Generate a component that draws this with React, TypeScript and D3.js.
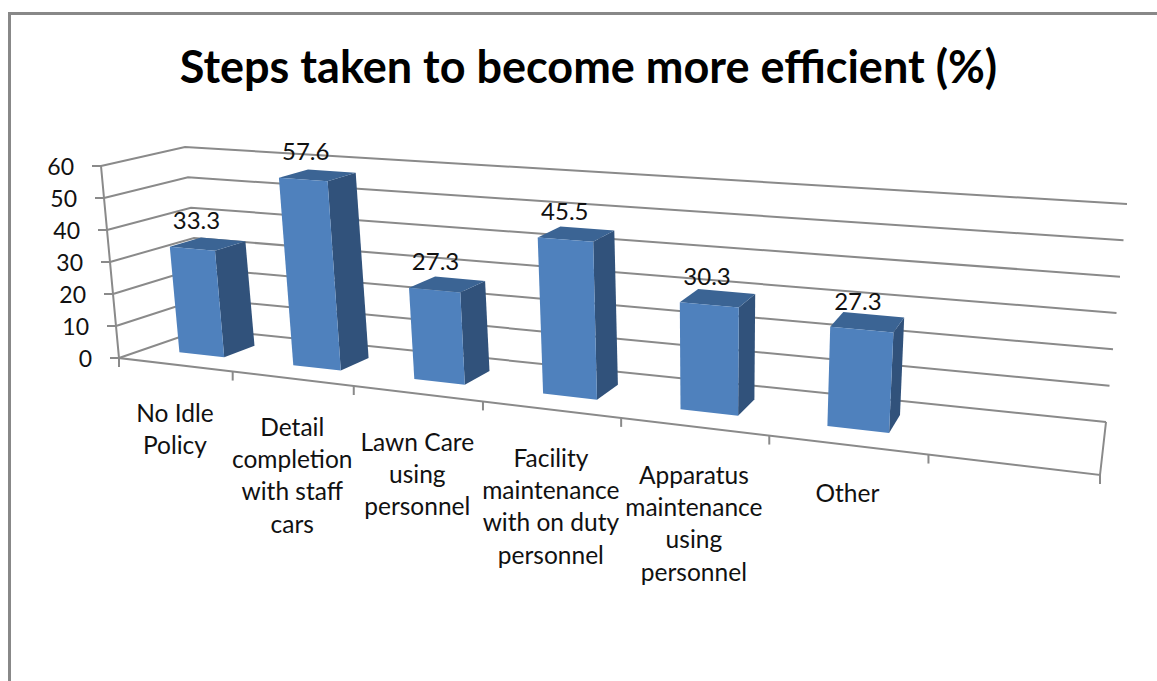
import React from "react";
import * as d3 from "d3";

const categories = ["No Idle Policy", "Detail completion with staff cars", "Lawn Care using personnel", "Facility maintenance with on duty personnel", "Apparatus maintenance using personnel", "Other"];
const slots = [...categories, "blank"];
const values = [33.3, 57.6, 27.3, 45.5, 30.3, 27.3];
const labelLines = [
  ["No Idle", "Policy"],
  ["Detail", "completion", "with staff", "cars"],
  ["Lawn Care", "using", "personnel"],
  ["Facility", "maintenance", "with on duty", "personnel"],
  ["Apparatus", "maintenance", "using", "personnel"],
  ["Other"],
];
const valueTicks = [0, 10, 20, 30, 40, 50, 60];
const title = "Steps taken to become more efficient (%)";

type P = [number, number];

// Maps the unit square onto a quad (p00, p10, p11, p01) with a projective transform.
function squareToQuad(q: [P, P, P, P]) {
  const [[x0, y0], [x1, y1], [x2, y2], [x3, y3]] = q;
  const dx1 = x1 - x2, dx2 = x3 - x2, dx3 = x0 - x1 + x2 - x3;
  const dy1 = y1 - y2, dy2 = y3 - y2, dy3 = y0 - y1 + y2 - y3;
  const den = dx1 * dy2 - dx2 * dy1;
  const g = (dx3 * dy2 - dx2 * dy3) / den;
  const h = (dx1 * dy3 - dx3 * dy1) / den;
  const a = x1 - x0 + g * x1, b = x3 - x0 + h * x3;
  const d = y1 - y0 + g * y1, e = y3 - y0 + h * y3;
  return (u: number, v: number): P => {
    const w = g * u + h * v + 1;
    return [(a * u + b * v + x0) / w, (d * u + e * v + y0) / w];
  };
}

// Floor and ceiling of the 3D plot box: front-left, front-right, back-right, back-left.
const floor = squareToQuad([[119, 358], [1100, 475], [1106, 422], [203, 329]]);
const ceiling = squareToQuad([[101, 166], [1124, 240], [1127, 204], [185, 147]]);

// Foreshortening along the category direction, at floor and ceiling level.
const warpBy = (k: number) => (u: number) => (u * k) / (1 + u * (k - 1));
const warpFloor = warpBy(1.12);
const warpCeiling = warpBy(1.15);

const h = d3.scaleLinear().domain([0, 60]).range([0, 1]);
const band = d3.scaleBand<string>().domain(slots).range([0, 1]).paddingInner(0.6).paddingOuter(0.3);
const slot = d3.scaleBand<string>().domain(slots).range([0, 1]);
const depthFront = 0.31;
const depthBack = 0.69;

function project(u: number, v: number, value: number): P {
  const a = floor(warpFloor(u), v), b = ceiling(warpCeiling(u), v), t = h(value);
  return [a[0] + (b[0] - a[0]) * t, a[1] + (b[1] - a[1]) * t];
}

const poly = (pts: P[]) => pts.map((p) => p.map((n) => n.toFixed(1)).join(",")).join(" ");
const GRID = "#8a8a8a";
const FONT = "Lato, 'Open Sans', sans-serif";

export default function App() {
  return (
    <svg width={1157} height={681} style={{ position: "absolute", left: 0, top: 0, background: "#fff" }} fontFamily={FONT}>
      <path d="M1157,13.5H9.5V681" fill="none" stroke="#888" strokeWidth={3} />
      <text x={588.5} y={82.5} textAnchor="middle" fontSize={45} fontWeight={700} fill="#000">{title}</text>

      {/* Wall gridlines: left wall then back wall */}
      {valueTicks.map((t) => {
        const a = project(0, 0, t), b = project(0, 1, t), c = project(1, 1, t);
        return (
          <polyline key={t} points={poly([a, b, c])} fill="none" stroke={GRID} strokeWidth={2} />
        );
      })}
      {/* Value axis, floor edges and tick marks */}
      <polyline points={poly([project(0, 0, 60), project(0, 0, 0), project(1, 0, 0), project(1, 1, 0)])} fill="none" stroke={GRID} strokeWidth={2} />
      {valueTicks.map((t) => {
        const p = project(0, 0, t);
        return (
          <g key={t}>
            <line x1={p[0] - 9} x2={p[0]} y1={p[1]} y2={p[1]} stroke={GRID} strokeWidth={2} />
            <text x={p[0] - 27} y={p[1] + 9} textAnchor="end" fontSize={23} fill="#111">{t}</text>
          </g>
        );
      })}
      {d3.range(slots.length + 1).map((i) => {
        const p = project(i / slots.length, 0, 0);
        return <line key={i} x1={p[0]} x2={p[0]} y1={p[1]} y2={p[1] + 9} stroke={GRID} strokeWidth={2} />;
      })}

      {/* Bars: side face, top face, front face */}
      {categories.map((c, i) => {
        const u0 = band(c)!, u1 = u0 + band.bandwidth(), val = values[i];
        const uMid = (u0 + u1) / 2;
        const fbl = project(u0, depthFront, 0), fbr = project(u1, depthFront, 0);
        const ftl = project(u0, depthFront, val), ftr = project(u1, depthFront, val);
        const bbr = project(u1, depthBack, 0), btr = project(u1, depthBack, val), btl = project(u0, depthBack, val);
        const top = project(uMid, depthFront, val);
        return (
          <g key={c}>
            <polygon points={poly([fbr, ftr, btr, bbr])} fill="#31527b" />
            <polygon points={poly([ftl, btl, btr, ftr])} fill="#3b6494" />
            <polygon points={poly([fbl, ftl, ftr, fbr])} fill="#4f81bd" />
            <text x={top[0] + 5 - 11 * uMid} y={top[1] - 20} textAnchor="middle" fontSize={24} fill="#111">{val}</text>
          </g>
        );
      })}

      {/* Category labels under the floor */}
      {categories.map((c, i) => {
        const mid = project((slot(c)! + slot.bandwidth() / 2), 0, 0);
        return (
          <text key={c} textAnchor="middle" fontSize={24.5} fill="#111">
            {labelLines[i].map((line, k) => (
              <tspan key={k} x={mid[0]} y={mid[1] + 57 + k * 32.4}>{line}</tspan>
            ))}
          </text>
        );
      })}
    </svg>
  );
}
